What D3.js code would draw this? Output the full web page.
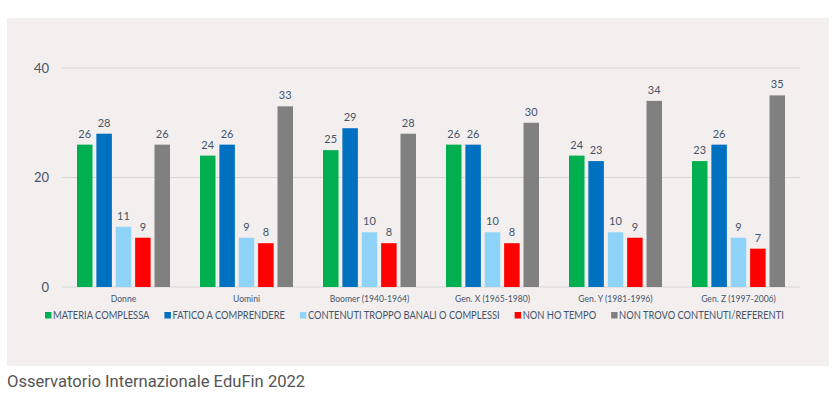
<!DOCTYPE html>
<html>
<head>
<meta charset="utf-8">
<script src="https://cdn.jsdelivr.net/npm/d3@7"></script>
<style>
  body { margin: 0; background: #fff; }
  svg { display: block; }
</style>
</head>
<body>
<div id="chart"></div>
<script>
// data
var groups = ["Donne", "Uomini", "Boomer (1940-1964)", "Gen. X (1965-1980)", "Gen. Y (1981-1996)", "Gen. Z (1997-2006)"];
var seriesNames = ["MATERIA COMPLESSA", "FATICO A COMPRENDERE", "CONTENUTI TROPPO BANALI O COMPLESSI", "NON HO TEMPO", "NON TROVO CONTENUTI/REFERENTI"];
var materia = [26, 24, 25, 26, 24, 23];
var fatico = [28, 26, 29, 26, 23, 26];
var contenuti = [11, 9, 10, 10, 10, 9];
var nonHoTempo = [9, 8, 8, 8, 9, 7];
var nonTrovo = [26, 33, 28, 30, 34, 35];
var yTicks = [0, 20, 40];

var colors = ["#00b050", "#0070c0", "#8fd3f8", "#ff0000", "#808080"];
var series = [materia, fatico, contenuti, nonHoTempo, nonTrovo];
var font = "Lato, 'Open Sans', sans-serif";

var W = 838, H = 393;
var svg = d3.select("#chart").append("svg")
  .attr("width", W)
  .attr("height", H);

// panel background
svg.append("rect")
  .attr("x", 7).attr("y", 18)
  .attr("width", 822).attr("height", 348)
  .attr("fill", "#f3efef");

// scales
var x0 = d3.scaleBand().domain(groups).range([62, 800]);
var x1 = d3.scaleBand().domain(d3.range(series.length))
  .range([15, x0.bandwidth() - 15]).paddingInner(0.2);
var y = d3.scaleLinear().domain([0, 40]).range([287, 68]);

// gridlines
svg.append("g")
  .selectAll("line")
  .data(yTicks)
  .join("line")
  .attr("x1", 62).attr("x2", 800)
  .attr("y1", function (d) { return y(d); })
  .attr("y2", function (d) { return y(d); })
  .attr("stroke", "#d9d6d6")
  .attr("stroke-width", 1);

// y axis labels
var yAxis = svg.append("g")
  .attr("transform", "translate(49,0)")
  .call(d3.axisLeft(y).tickValues(yTicks).tickSize(0).tickPadding(0));
yAxis.select(".domain").remove();
yAxis.selectAll("text")
  .attr("font-family", font)
  .attr("font-size", 13)
  .attr("fill", "#44546a");

// bars
var g = svg.append("g")
  .selectAll("g")
  .data(groups)
  .join("g")
  .attr("transform", function (d) { return "translate(" + x0(d) + ",0)"; });

var cells = g.selectAll("g")
  .data(function (d, i) {
    return series.map(function (s, k) { return { k: k, v: s[i] }; });
  })
  .join("g");

cells.append("rect")
  .attr("x", function (d) { return x1(d.k); })
  .attr("y", function (d) { return y(d.v); })
  .attr("width", x1.bandwidth())
  .attr("height", function (d) { return y(0) - y(d.v); })
  .attr("fill", function (d) { return colors[d.k]; });

cells.append("text")
  .attr("x", function (d) { return x1(d.k) + x1.bandwidth() / 2; })
  .attr("y", function (d) { return y(d.v) - 7; })
  .attr("text-anchor", "middle")
  .attr("font-family", font)
  .attr("font-size", 11)
  .attr("fill", "#44546a")
  .text(function (d) { return d.v; });

// category labels (squeezed a bit, like Calibri)
var xAxis = svg.append("g")
  .attr("transform", "translate(0,287)")
  .call(d3.axisBottom(x0).tickSize(0).tickPadding(8));
xAxis.select(".domain").remove();
xAxis.selectAll("text")
  .attr("font-family", font)
  .attr("font-size", 10)
  .attr("transform", "scale(0.86,1)")
  .attr("fill", "#44546a");

// legend, items laid out one after the other
var sx = 0.85;
var legend = svg.append("g").attr("transform", "translate(45,311)");
var lx = 0;
seriesNames.forEach(function (name, i) {
  var item = legend.append("g").attr("transform", "translate(" + lx + ",0)");
  item.append("rect")
    .attr("y", 1)
    .attr("width", 6.5).attr("height", 6.5)
    .attr("fill", colors[i]);
  var t = item.append("text")
    .attr("transform", "translate(8,8) scale(" + sx + ",1)")
    .attr("font-family", font)
    .attr("font-size", 11)
    .attr("fill", "#44546a")
    .text(name);
  lx += 8 + t.node().getComputedTextLength() * sx + 15;
});

// caption
svg.append("text")
  .attr("x", 7).attr("y", 387)
  .attr("font-family", "Roboto, sans-serif")
  .attr("font-size", 16.6)
  .attr("fill", "#555")
  .text("Osservatorio Internazionale EduFin 2022");
</script>
</body>
</html>
